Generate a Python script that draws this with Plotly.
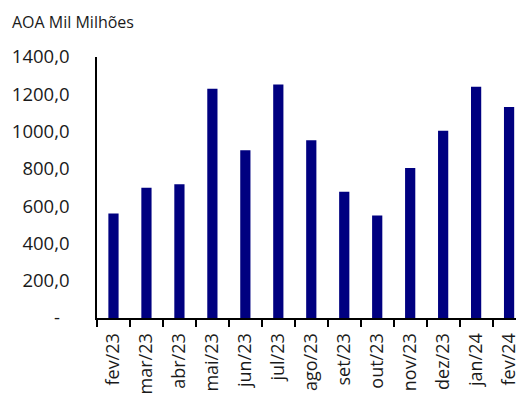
import plotly.graph_objects as go

categories = ["fev/23", "mar/23", "abr/23", "mai/23", "jun/23", "jul/23", "ago/23",
              "set/23", "out/23", "nov/23", "dez/23", "jan/24", "fev/24"]
values = [561, 698, 718, 1230, 900, 1252, 954, 677, 550, 804, 1005, 1241, 1132]
y_tickvals = [0, 200, 400, 600, 800, 1000, 1200, 1400]
y_ticktext = ["-\u00a0\u00a0", "200,0", "400,0", "600,0", "800,0", "1000,0", "1200,0", "1400,0"]
title_text = "AOA Mil Milhões"

FONT = "Open Sans"

fig = go.Figure(go.Bar(
    x=categories, y=values,
    marker=dict(color="#000080", line=dict(width=0)),
    width=0.31,
))

fig.update_layout(
    width=520, height=395,
    margin=dict(l=97, r=0, t=57, b=77),
    paper_bgcolor="white", plot_bgcolor="white",
    showlegend=False,
    font=dict(family=FONT, size=18, color="#1a1a1a"),
    title=dict(text=title_text, xref="container", yref="container",
               x=12/520, xanchor="left", y=1 - 22/395, yanchor="middle",
               font=dict(family=FONT, size=16, color="#1a1a1a")),
)

fig.update_xaxes(
    type="category", range=[-0.5, 12.21],
    showline=True, linecolor="black", linewidth=2,
    ticks="outside", tickson="boundaries", ticklen=7, tickcolor="black", tickwidth=2,
    tickangle=-90, showgrid=False, zeroline=False,
    ticklabelstandoff=6,
    tickfont=dict(family=FONT, size=18, color="#1a1a1a"),
)

fig.update_yaxes(
    range=[0, 1400],
    tickvals=y_tickvals, ticktext=y_ticktext,
    showline=True, linecolor="black", linewidth=1.5,
    showgrid=False, zeroline=False, ticks="",
    ticklabelstandoff=22,
    tickfont=dict(family=FONT, size=18.5, color="#1a1a1a"),
)

fig.write_html("out.html")
